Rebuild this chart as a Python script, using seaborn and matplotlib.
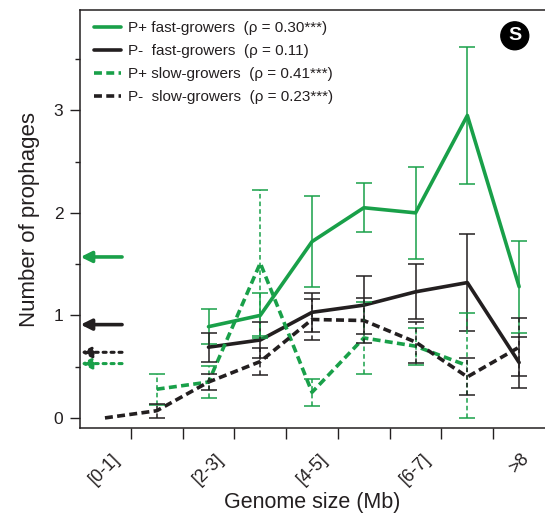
"""
Prophage counts vs genome size, fast- vs slow-growers (P+ / P-).
"""

import numpy as np
import pandas as pd
import matplotlib.pyplot as plt
from matplotlib.lines import Line2D
import seaborn as sns

nan = np.nan

# --- Data ---
categories = ['[0-1]', '[1-2]', '[2-3]', '[3-4]', '[4-5]', '[5-6]', '[6-7]', '[7-8]', '>8']
shown_labels = ['[0-1]', '[2-3]', '[4-5]', '[6-7]', '>8']

fast_pos_mean = [nan, nan, 0.89, 1.00, 1.72, 2.05, 2.00, 2.95, 1.28]
fast_pos_err = [nan, nan, 0.17, 0.22, 0.44, 0.24, 0.45, 0.67, 0.45]
fast_neg_mean = [nan, nan, 0.69, 0.76, 1.03, 1.10, 1.23, 1.32, 0.54]
fast_neg_err = [nan, nan, 0.14, 0.18, 0.19, 0.28, 0.27, 0.47, 0.25]
slow_pos_mean = [nan, 0.28, 0.35, 1.51, 0.25, 0.78, 0.70, 0.51, nan]
slow_pos_err = [nan, 0.15, 0.16, 0.71, 0.13, 0.35, 0.18, 0.51, nan]
slow_neg_mean = [0.00, 0.07, 0.35, 0.55, 0.96, 0.95, 0.74, 0.40, 0.69]
slow_neg_err = [nan, 0.07, 0.08, 0.13, 0.20, 0.22, 0.20, 0.18, 0.28]

series_names = ['P+ fast-growers  (\u03c1 = 0.30***)',
                'P-  fast-growers  (\u03c1 = 0.11)',
                'P+ slow-growers  (\u03c1 = 0.41***)',
                'P-  slow-growers  (\u03c1 = 0.23***)']
# overall means, shown as arrows on the y axis
overall_means = [1.57, 0.91, 0.53, 0.64]

GREEN = '#19a049'
BLACK = '#231f20'
colors = [GREEN, BLACK, GREEN, BLACK]
dashed = [False, False, True, True]

means = [fast_pos_mean, fast_neg_mean, slow_pos_mean, slow_neg_mean]
errs = [fast_pos_err, fast_neg_err, slow_pos_err, slow_neg_err]

# long table for seaborn
frames = []
for name, m, e in zip(series_names, means, errs):
    frames.append(pd.DataFrame({'pos': np.arange(len(categories)),
                                'mean': m, 'err': e, 'series': name}))
df = pd.concat(frames, ignore_index=True)

# --- Style ---
sns.set_style('ticks')
plt.rcParams['font.family'] = ['Liberation Sans', 'DejaVu Sans']
plt.rcParams['text.color'] = BLACK
plt.rcParams['xtick.color'] = BLACK
plt.rcParams['ytick.color'] = BLACK
plt.rcParams['axes.labelcolor'] = BLACK

fig = plt.figure(figsize=(5.45, 5.19), dpi=100)
ax = fig.add_axes([0.147, 0.175, 0.853, 0.806])

sns.lineplot(
    data=df.dropna(subset=['mean']),
    x='pos', y='mean',
    hue='series', style='series',
    hue_order=series_names, style_order=series_names,
    palette=dict(zip(series_names, colors)),
    dashes={n: ((2.2, 1.2) if d else '') for n, d in zip(series_names, dashed)},
    linewidth=2.6, legend=False, ax=ax,
)

# error bars
for name, c, d in zip(series_names, colors, dashed):
    sub = df[(df['series'] == name) & df['err'].notna()]
    eb = ax.errorbar(sub['pos'], sub['mean'], yerr=sub['err'], fmt='none',
                     ecolor=c, elinewidth=1.1, capsize=5.5, capthick=1.1)
    if d:
        eb[2][0].set_linestyle((0, (3, 2)))

# mean arrows on the left
for val, c, d in zip(overall_means, colors, dashed):
    ax.annotate('', xy=(-0.47, val), xytext=(0.33, val),
                arrowprops=dict(arrowstyle='-|>', color=c, lw=2.6 if not d else 2.2,
                                linestyle=(0, (1, 1.6)) if d else '-',
                                mutation_scale=16, shrinkA=0, shrinkB=0))

# --- Axes ---
ax.set_xlim(-0.48, 8.5)
ax.set_ylim(-0.1, 3.98)
ax.set_xticks(np.arange(0.5, 8, 1))
ax.set_xticklabels([])
ax.set_xticks(np.arange(0, 9, 2), shown_labels, minor=True)
ax.tick_params(axis='x', which='major', direction='out', length=8, width=1)
ax.tick_params(axis='x', which='minor', length=0, pad=16, labelsize=13,
               labelrotation=45)
ax.set_yticks([0, 1, 2, 3])
ax.set_yticks([0.5, 1.5, 2.5, 3.5], minor=True)
ax.tick_params(axis='y', which='major', direction='out', length=7, width=1,
               labelsize=12.5, pad=5)
ax.tick_params(axis='y', which='minor', direction='out', length=3.5, width=1)
ax.spines['right'].set_visible(False)
for s in ['left', 'top', 'bottom']:
    ax.spines[s].set_linewidth(1.1)
    ax.spines[s].set_color(BLACK)

ax.set_xlabel('Genome size (Mb)', fontsize=15.5, labelpad=3)
ax.set_ylabel('Number of prophages', fontsize=16, labelpad=10)

handles = [Line2D([], [], color=c, lw=2.6,
                  linestyle=(0, (2.2, 1.2)) if d else '-')
           for c, d in zip(colors, dashed)]
ax.legend(handles, series_names, loc='upper left', bbox_to_anchor=(0.005, 1.0),
          frameon=False, fontsize=11, handlelength=1.8, handletextpad=0.45,
          labelspacing=0.58, borderaxespad=0.35)

# panel badge
ax.text(0.935, 0.938, 'S', transform=ax.transAxes, ha='center', va='center',
        color='white', fontsize=14, fontweight='bold',
        bbox=dict(boxstyle='circle,pad=0.28', fc='black', ec='black'))

fig.savefig('out.png', dpi=100)
plt.close(fig)
